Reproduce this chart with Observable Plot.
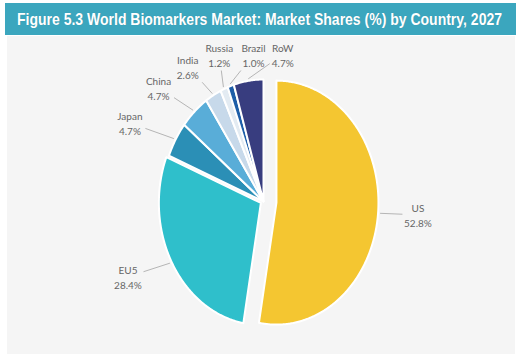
<!DOCTYPE html>
<html><head><meta charset="utf-8">
<script src="https://cdn.jsdelivr.net/npm/d3@7"></script>
<script src="https://cdn.jsdelivr.net/npm/@observablehq/plot@0.6"></script>
<style>
html,body{margin:0;padding:0;background:#fff;}
body{width:517px;height:363px;position:relative;overflow:hidden;}
#title{position:absolute;left:5px;top:3px;width:511px;height:32px;background:#3ba6be;
  box-sizing:border-box;padding-left:12px;white-space:nowrap;overflow:hidden;}
#title span{display:inline-block;color:#fff;font-family:"Liberation Sans",Arial,sans-serif;font-weight:bold;
  font-size:16.5px;line-height:32px;transform-origin:0 50%;text-shadow:0 0 1px rgba(0,0,0,0.15);}
#chart{position:absolute;left:7px;top:36px;}
</style></head><body>
<div id="title"><span id="ttl">Figure 5.3 World Biomarkers Market: Market Shares (%) by Country, 2027</span></div>
<div id="chart"></div>
<script>
// ---- data ----
const countries = ["US", "EU5", "Japan", "China", "India", "Russia", "Brazil", "RoW"];
const shares = [52.8, 28.4, 4.7, 4.7, 2.6, 1.2, 1.0, 4.7];
const colors = ["#f4c631", "#2fbfcb", "#2b8fb6", "#59add8", "#c7d9ea", "#e3ebf2", "#1d5ea8", "#383d7f"];
const explodePx = {US: 13, EU5: 3};

// fit condensed title to the bar
const ttl = document.getElementById("ttl");
const tw = ttl.getBoundingClientRect().width;
ttl.style.transform = `scaleX(${485 / tw})`;

// ---- layout ----
const W = 508, H = 318, cx = 256, cy = 165, rx = 102, ry = 122, RL = 155, minLabelY = 18;

const arcs = d3.pie().sort(null).value(d => d)(shares);
const mids = arcs.map(a => (a.startAngle + a.endAngle) / 2);

// slice polygons (data units: unit ellipse)
const pts = [];
arcs.forEach((a, i) => {
  const name = countries[i];
  const e = explodePx[name] || 0;
  const ox = e * Math.sin(mids[i]) / rx, oy = e * Math.cos(mids[i]) / ry;
  pts.push({name, x: ox, y: oy});
  const n = Math.max(4, Math.ceil((a.endAngle - a.startAngle) / 0.01));
  for (let k = 0; k <= n; k++) {
    const t = a.startAngle + (a.endAngle - a.startAngle) * k / n;
    pts.push({name, x: ox + Math.sin(t), y: oy + Math.cos(t)});
  }
});

// label placement: start at bisector, push clockwise until no overlap with earlier labels
const labs = countries.map((c, i) => {
  const pct = shares[i].toFixed(1) + "%";
  return {name: c, text: c + "\n" + pct, w: Math.max(c.length, pct.length) * 5 + 4, h: 30};
});
const ppos = a => {
  const px = Math.sin(a) * RL, py = -Math.cos(a) * RL;
  return [px, Math.max(py, minLabelY - cy)];
};
const placed = [];
labs.forEach((l, i) => {
  let a = mids[i];
  const hits = a => placed.some(p => {
    const [x0, y0] = ppos(p.a), [x1, y1] = ppos(a);
    return Math.abs(x1 - x0) < (p.w + l.w) / 2 && Math.abs(y1 - y0) < (p.h + l.h) / 2;
  });
  let guard = 0;
  while (hits(a) && guard++ < 2000) a += 0.002;
  placed.push({...l, a});
});
const labels = placed.map(l => {
  const [px, py] = ppos(l.a);
  return {...l, px, py, x: px / rx, y: -py / ry};
});

// leader lines: from slice edge at bisector to label box edge
const leaders = labels.map((l, i) => {
  const e = explodePx[l.name] || 0;
  const sx = Math.sin(mids[i]) * (rx + e + 2), sy = -Math.cos(mids[i]) * (ry + e + 2);
  let ux = sx - l.px, uy = sy - l.py;
  const len = Math.hypot(ux, uy); ux /= len; uy /= len;
  const t = Math.min((l.w / 2 + 1) / Math.max(Math.abs(ux), 1e-6), (l.h / 2 + 1) / Math.max(Math.abs(uy), 1e-6));
  const ex = l.px + ux * t, ey = l.py + uy * t;
  return {x1: sx / rx, y1: -sy / ry, x2: ex / rx, y2: -ey / ry, ok: len - t > 4};
}).filter(d => d.ok);

const chart = Plot.plot({
  width: W, height: H, margin: 0,
  style: {background: "#f5f5f5", overflow: "visible"},
  x: {domain: [-1, 1], range: [cx - rx, cx + rx], axis: null},
  y: {domain: [-1, 1], range: [cy + ry, cy - ry], axis: null},
  color: {domain: countries, range: colors},
  marks: [
    Plot.link(leaders, {x1: "x1", y1: "y1", x2: "x2", y2: "y2", stroke: "#b5b5b5", strokeWidth: 1}),
    Plot.line(pts, {x: "x", y: "y", z: "name", fill: "name", stroke: "white", strokeWidth: 2, curve: "linear-closed"}),
    Plot.text(labels, {x: "x", y: "y", text: "text", fill: "#666", fontSize: 10, lineHeight: 1.5,
      fontFamily: "Lato, 'Open Sans', sans-serif", textAnchor: "middle"})
  ]
});
document.getElementById("chart").appendChild(chart);
</script>
</body></html>
